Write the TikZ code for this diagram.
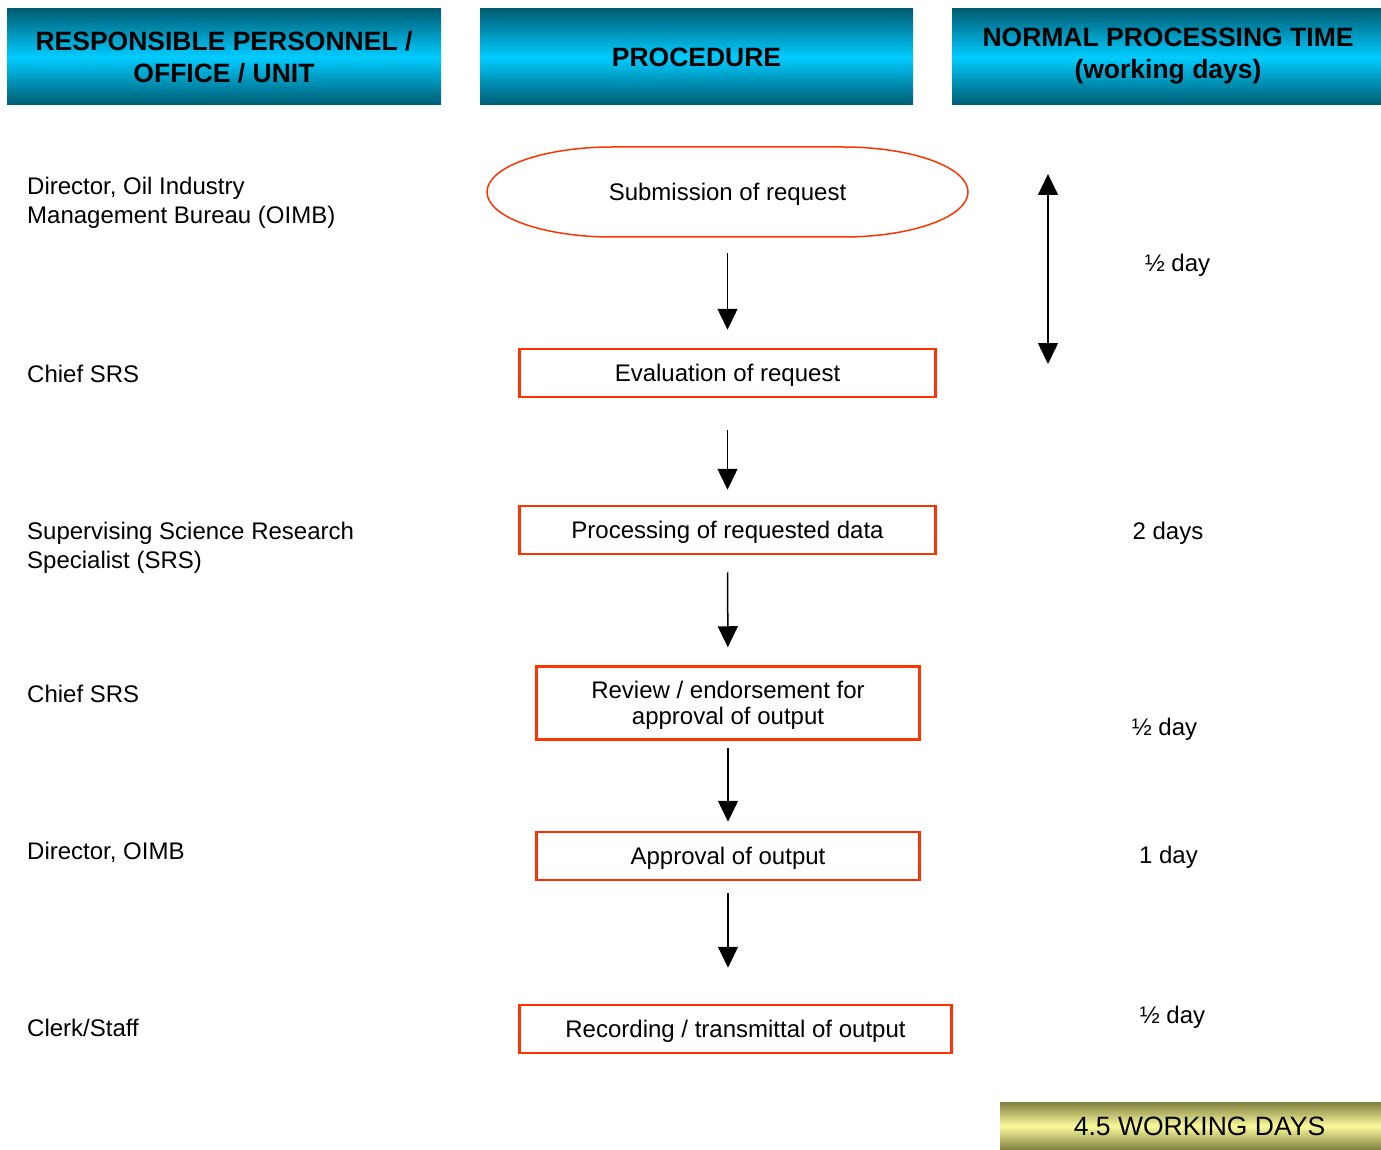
\documentclass[tikz,border=0pt]{standalone}
\usepackage{fontspec}
\setmainfont{Liberation Sans}
\usetikzlibrary{arrows.meta}
\definecolor{boxred}{HTML}{FF3300}
\definecolor{tealdark}{HTML}{005C73}
\definecolor{cyanmid}{HTML}{00CCFF}
\definecolor{olivedark}{HTML}{7F7F40}
\definecolor{yellowmid}{HTML}{FAFA9C}
\begin{document}
\begin{tikzpicture}[x=1pt,y=-1pt,
  hdrbox/.style={minimum width=434pt, minimum height=96pt, inner sep=0pt,
    top color=tealdark, bottom color=tealdark, middle color=cyanmid},
  hdrtext/.style={align=center, inner sep=0pt, font=\fontsize{26.5}{32.5}\selectfont\bfseries},
  bodytext/.style={align=left, inner sep=0pt, anchor=west, text depth=0pt, font=\fontsize{24}{29}\selectfont},
  timetext/.style={inner sep=0pt, text depth=0pt, font=\fontsize{24}{29}\selectfont},
  procbox/.style={draw=boxred, line width=2.5pt, minimum height=48pt, align=center,
    inner sep=0pt, text depth=0pt, font=\fontsize{24}{26}\selectfont},
  arr/.style={-{Triangle[width=20pt,length=21pt]}, line width=1.5pt},
  dblarr/.style={{Triangle[width=20pt,length=21pt]}-{Triangle[width=20pt,length=21pt]}, line width=1.5pt}
]
\useasboundingbox (0,0) rectangle (1381,1150);

% headers
\node[hdrbox] (h1) at (224,57) {};
\node[hdrtext] (h1t) at (224,57) {RESPONSIBLE PERSONNEL /\\OFFICE / UNIT};
\node[hdrbox, minimum width=433pt] (h2) at (696.5,57) {};
\node[hdrtext] (h2t) at (696.5,57) {PROCEDURE};
\node[hdrbox, minimum width=429pt] (h3) at (1166.5,57) {};
\node[hdrtext, text depth=0pt] (h3t) at (1168,53.5) {NORMAL PROCESSING TIME\\(working days)};

% left column
\node[bodytext] (p1) at (27,200.5) {Director, Oil Industry\\Management Bureau (OIMB)};
\node[bodytext] (p2) at (27,374) {Chief SRS};
\node[bodytext] (p3) at (27,545.5) {Supervising Science Research\\Specialist (SRS)};
\node[bodytext] (p4) at (27,694) {Chief SRS};
\node[bodytext] (p5) at (27,851) {Director, OIMB};
\node[bodytext] (p6) at (27,1028) {Clerk/Staff};

% procedure
\draw[boxred, line width=1.5pt] (612,147) -- (843,147)
  arc[start angle=90, end angle=-90, x radius=125pt, y radius=45pt]
  -- (612,237)
  arc[start angle=270, end angle=90, x radius=125pt, y radius=45pt] -- cycle;
\node[minimum width=481pt, minimum height=90pt, inner sep=0pt, text depth=0pt,
  font=\fontsize{24}{26}\selectfont] (sub) at (727.5,192) {Submission of request};
\node[procbox, minimum width=416pt] (eval) at (727.5,373) {Evaluation of request};
\node[procbox, minimum width=416pt] (proc) at (727.5,530) {Processing of requested data};
\node[procbox, minimum width=383pt, minimum height=73pt] (rev) at (728,703)
  {Review / endorsement for\\approval of output};
\node[procbox, minimum width=383pt] (appr) at (728,856) {Approval of output};
\node[procbox, minimum width=432pt] (rec) at (735.5,1029) {Recording / transmittal of output};

\draw[arr, shorten <=16pt, shorten >=18pt] (sub) -- (eval);
\draw[arr, shorten <=32pt, shorten >=15pt] (eval) -- (proc);
\draw[arr, shorten <=17pt, shorten >=18pt] (proc) -- (rev);
\draw[arr, shorten <=7pt, shorten >=9pt] (rev) -- (appr);
\draw[arr, shorten <=12pt, shorten >=36pt] (appr.south) -- (appr.south |- rec.north);

% times
\coordinate (dt) at (1048,174);
\coordinate (db) at (1048,364);
\draw[dblarr] (dt) -- (db);
\node[timetext] (t1) at (1177.5,263) {½ day};
\node[timetext] (t2) at (1168,531) {2 days};
\node[timetext] (t3) at (1164.5,727) {½ day};
\node[timetext] (t4) at (1168.5,855) {1 day};
\node[timetext] (t5) at (1172.5,1015) {½ day};

% total
\node[minimum width=381pt, minimum height=48pt, inner sep=0pt,
  top color=olivedark, bottom color=olivedark, middle color=yellowmid] (tot) at (1190.5,1126) {};
\node[inner sep=0pt, text depth=0pt, font=\fontsize{26.5}{28}\selectfont] (tott) at (1199.5,1126) {4.5 WORKING DAYS};
\end{tikzpicture}
\end{document}
